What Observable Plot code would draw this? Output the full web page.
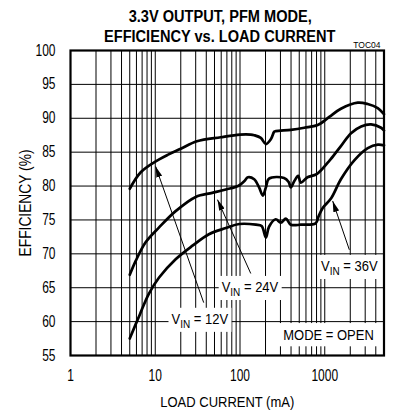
<!DOCTYPE html>
<html><head><meta charset="utf-8">
<script src="https://cdn.jsdelivr.net/npm/d3@7"></script>
<script src="https://cdn.jsdelivr.net/npm/@observablehq/plot@0.6"></script>
<style>body{margin:0;background:#fff}</style>
</head><body><div id="chart"></div>
<script>
// ---- data ----
const load12 = [5,6.7,9.7,14,20,31,59,100,134,147,176,202,231,253,264,398,573,824,1130,1550,2450,3210,4220,5000];
const eff12  = [79.6,82.0,83.5,84.6,85.5,86.6,87.2,87.6,87.6,87.5,87.1,86.2,86.9,88.0,88.1,88.3,88.6,89.0,90.2,91.4,92.3,92.1,91.5,90.6];
const load24 = [5,5.9,7.7,11.1,17.4,30,47,68,95,112,124,147,168,186,202,220,331,375,398,436,486,523,625,788,898,1090,1183,1550,2040,2690,3520,4620,5000];
const eff24  = [66.9,69.0,71.7,73.9,76.3,78.4,79.0,79.5,80.0,80.7,81.3,81.0,79.8,78.6,79.8,81.1,81.2,80.6,79.8,80.7,81.5,80.5,81.3,81.7,82.3,83.5,84.0,85.9,87.8,88.8,89.1,88.6,88.2];
const load36 = [5,6.6,8.4,11.1,17.4,27.5,43,68,98,154,180,202,220,264,303,348,398,523,780,850,950,1190,1550,2230,3220,4230,5000];
const eff36  = [57.5,61.1,64.1,66.5,69.2,71.2,72.9,73.8,74.4,74.3,74.1,72.4,74.0,75.1,74.6,75.2,74.3,74.3,74.5,75.6,76.8,78.2,81.0,83.8,85.6,86.1,86.0];

const xTickValues = [1,10,100,1000,5000];
const xGridValues = [1,2,3,4,5,6,7,8,9,10,20,30,40,50,60,70,80,90,100,200,300,400,500,600,700,800,900,1000,2000,3000,4000,5000];
const yTickValues = [55,60,65,70,75,80,85,90,95,100];

const vinNames  = ["12V","24V","36V"];
const vinLabelX = [33.5,131,1950];
const vinLabelY = [60.4,65.1,68.2];
const arrowFromX = [37.3,134,1950];
const arrowFromY = [62.8,67.1,70.6];
const arrowToX   = [10.1,54.2,1240];
const arrowToY   = [82.9,78.0,77.8];
const modeText = "MODE = OPEN";
const modeX = 1107, modeY = 58.0;

const titleLines = ["3.3V OUTPUT, PFM MODE,","EFFICIENCY vs. LOAD CURRENT"];
const tocText = "TOC04";
const xLabel = "LOAD CURRENT (mA)";
const yLabel = "EFFICIENCY (%)";

// ---- style ----
const FF = '"Liberation Sans",Arial,sans-serif';
const S = {tick:12, label:13, ylabel:13.8, title:14.6, toc:8.5, sub:10};
// vertical stretch (text drawn condensed: same width, taller glyphs)
const K = {tick:1.3, label:1.18, title:1.18, toc:1.1};

// ---- tables ----
const series = [
  ...load12.map((x,i)=>({x, y:eff12[i], s:"12"})),
  ...load24.map((x,i)=>({x, y:eff24[i], s:"24"})),
  ...load36.map((x,i)=>({x, y:eff36[i], s:"36"}))
];
const vinTable = vinNames.map((v,i)=>({t:"V_IN = "+v, x:vinLabelX[i], y:vinLabelY[i]}));
const arrowTable = vinNames.map((v,i)=>({x1:arrowFromX[i],y1:arrowFromY[i],x2:arrowToX[i],y2:arrowToY[i]}));

const chart = Plot.plot({
  width: 400, height: 411,
  marginLeft: 70, marginRight: 16.5, marginTop: 50, marginBottom: 56,
  style: {fontFamily: FF, fontSize: S.tick+"px", color:"#000", background:"#fff", overflow:"visible"},
  x: {type:"log", domain:[1,5000], ticks: xTickValues, tickFormat: d=>String(d), tickSize:0, tickPadding:14.5, label:null},
  y: {domain:[55,100], ticks: yTickValues, tickFormat: d=>String(d), tickSize:0, tickPadding:15, label:null},
  marks: [
    Plot.ruleX(xGridValues, {stroke:"#000", strokeWidth:1}),
    Plot.ruleY(yTickValues, {stroke:"#000", strokeWidth:1}),
    Plot.line(series, {x:"x", y:"y", z:"s", stroke:"#000", strokeWidth:2.7, curve:"catmull-rom"}),
    Plot.text(vinTable, {x:"x", y:"y", text:"t", fontSize:S.label, textAnchor:"middle", lineAnchor:"middle", ariaDescription:"vin-labels"}),
    Plot.text([modeText], {x:()=>modeX, y:()=>modeY, text:d=>d, fontSize:S.label, textAnchor:"middle", lineAnchor:"middle", ariaDescription:"mode-label"}),
    Plot.link(arrowTable, {x1:"x1", y1:"y1", x2:"x2", y2:"y2", stroke:"#000", strokeWidth:1, ariaDescription:"arrow-links"}),
    Plot.frame({stroke:"#000", strokeWidth:2.2}),
    Plot.text([titleLines[0]], {frameAnchor:"top", text:d=>d, dx:-7, dy:-34.5, fontSize:S.title, fontWeight:"bold", textAnchor:"middle", lineAnchor:"middle", ariaDescription:"title"}),
    Plot.text([titleLines[1]], {frameAnchor:"top", text:d=>d, dx:-7.5, dy:-14.5, fontSize:S.title, fontWeight:"bold", textAnchor:"middle", lineAnchor:"middle", ariaDescription:"title"}),
    Plot.text([tocText], {frameAnchor:"top-right", text:d=>d, dx:-3.5, dy:-5, fontSize:S.toc, textAnchor:"end", lineAnchor:"middle", ariaDescription:"toc"}),
    Plot.text([xLabel], {frameAnchor:"bottom", text:d=>d, dy:46.7, fontSize:S.label, textAnchor:"middle", lineAnchor:"middle", ariaDescription:"axis-label"}),
    Plot.text([yLabel], {frameAnchor:"left", text:d=>d, dx:-45, rotate:-90, fontSize:S.ylabel, textAnchor:"middle", lineAnchor:"middle", ariaDescription:"axis-label"})
  ]
});
document.getElementById("chart").appendChild(chart);

// ---- post-processing ----
const svg = d3.select(chart);
// subscripts
const shift = S.label*0.3;
svg.selectAll('g[aria-description="vin-labels"] text').each(function(){
  const t = d3.select(this); const s = t.text();
  const parts = s.split("_IN");
  t.text(null);
  t.append("tspan").text(parts[0]);
  t.append("tspan").attr("font-size", S.sub).attr("dy", shift).text("IN");
  t.append("tspan").attr("dy", -shift).text(parts[1]);
});
// condense: enlarge glyphs by k, squeeze horizontally by 1/k (keeps natural width)
function condense(sel, k){
  svg.selectAll(sel).each(function(){
    const fs = parseFloat(getComputedStyle(this).fontSize);
    this.style.fontSize = (fs*k)+"px";
    this.querySelectorAll("tspan[font-size]").forEach(t=>t.setAttribute("font-size", parseFloat(t.getAttribute("font-size"))*k));
    const tr = this.getAttribute("transform") || "";
    this.setAttribute("transform", tr + ` scale(${1/k},1)`);
  });
}
condense('g[aria-label="x-axis tick label"] text, g[aria-label="y-axis tick label"] text', K.tick);
condense('g[aria-description="title"] text', K.title);
condense('g[aria-description="toc"] text', K.toc);
condense('g[aria-description="axis-label"] text', K.label);
condense('g[aria-description="mode-label"] text', K.label);
condense('g[aria-description="vin-labels"] text', K.label);

function boxes(sel, px, py){
  svg.selectAll(sel).each(function(){
    const bb = this.getBBox();
    const r = document.createElementNS("http://www.w3.org/2000/svg","rect");
    r.setAttribute("x", bb.x-px); r.setAttribute("y", bb.y-py);
    r.setAttribute("width", bb.width+2*px); r.setAttribute("height", bb.height+2*py);
    r.setAttribute("fill","#fff");
    const tr = this.getAttribute("transform"); if (tr) r.setAttribute("transform", tr);
    this.parentNode.insertBefore(r, this);
  });
}
boxes('g[aria-description="vin-labels"] text', 3.5, 2);
boxes('g[aria-description="mode-label"] text', 8, 3);
const defs = svg.append("defs");
defs.append("marker").attr("id","ahead").attr("viewBox","0 0 11 6").attr("refX",11).attr("refY",3)
  .attr("markerWidth",11).attr("markerHeight",6).attr("markerUnits","userSpaceOnUse").attr("orient","auto")
  .append("path").attr("d","M0,0L11,3L0,6Z").attr("fill","#000");
svg.selectAll('g[aria-description="arrow-links"] path').attr("marker-end","url(#ahead)");
</script>
</body></html>
